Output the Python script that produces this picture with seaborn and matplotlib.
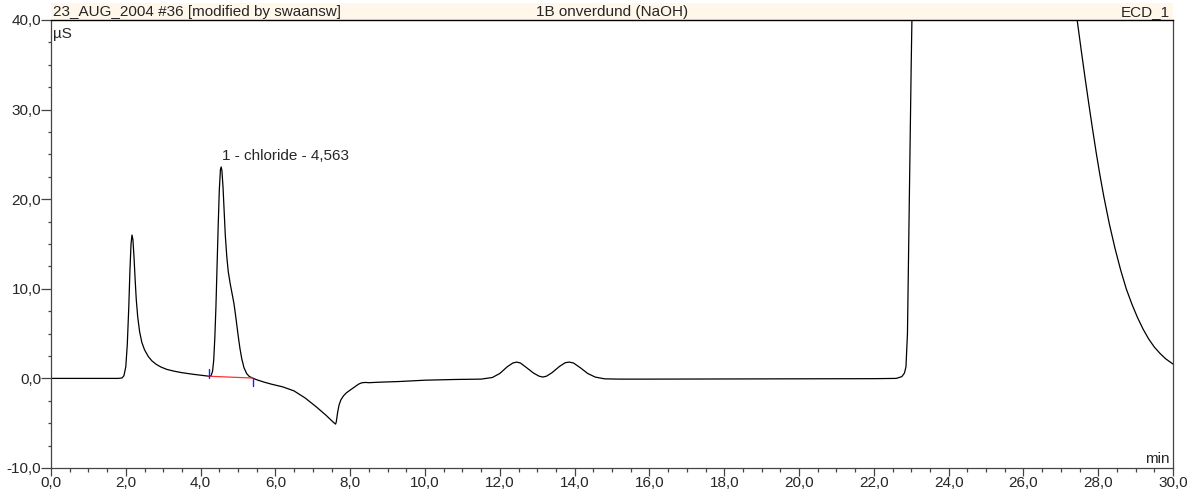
import matplotlib
matplotlib.use("Agg")
import matplotlib.pyplot as plt
from matplotlib.ticker import MultipleLocator, FuncFormatter
import seaborn as sns
import pandas as pd

# Conductivity trace (retention time in min, signal in µS)
time_min = [
    0.0, 1.0, 1.8, 1.90, 1.95, 2.00, 2.04, 2.08, 2.11, 2.14, 2.165, 2.19,
    2.22, 2.25, 2.28, 2.32, 2.37, 2.43, 2.50, 2.60, 2.70, 2.82, 2.95, 3.1,
    3.3, 3.5, 3.8, 4.05, 4.23, 4.28, 4.32, 4.35, 4.38, 4.41, 4.44, 4.47,
    4.50, 4.53, 4.55, 4.57, 4.60, 4.63, 4.66, 4.70, 4.74, 4.79, 4.84, 4.89,
    4.93, 4.97, 5.01, 5.05, 5.10, 5.16, 5.23, 5.30, 5.39, 5.5, 5.7, 5.9,
    6.2, 6.5, 6.8, 7.1, 7.35, 7.55, 7.61, 7.63, 7.66, 7.70, 7.75, 7.82,
    7.90, 8.0, 8.12, 8.22, 8.3, 8.4, 8.5, 8.8, 9.3, 10.0, 10.8, 11.5,
    11.8, 12.0, 12.2, 12.35, 12.45, 12.55, 12.7, 12.9, 13.05, 13.15, 13.25,
    13.4, 13.6, 13.75, 13.86, 13.97, 14.15, 14.35, 14.55, 14.8, 15.2, 16.0,
    20.0, 22.0, 22.6, 22.75, 22.82, 22.86, 22.90, 22.95, 23.0, 23.05, 23.3,
    25.0, 27.0, 27.2, 27.45, 27.55, 27.65, 27.75, 27.85, 27.95, 28.05,
    28.15, 28.3, 28.45, 28.6, 28.75, 28.9, 29.05, 29.2, 29.35, 29.5, 29.65,
    29.8, 30.0,
]
signal_us = [
    0.0, 0.0, 0.0, 0.05, 0.3, 1.3, 3.8, 8.0, 12.0, 15.0, 16.0, 15.5,
    13.5, 11.0, 8.8, 6.8, 5.2, 4.0, 3.2, 2.45, 1.95, 1.55, 1.25, 1.0,
    0.8, 0.64, 0.46, 0.33, 0.24, 0.3, 0.8, 2.0, 4.5, 8.0, 12.5, 17.0,
    21.0, 23.3, 23.6, 23.2, 21.3, 18.6, 16.0, 13.6, 11.9, 10.6, 9.5, 8.4,
    7.2, 5.9, 4.6, 3.4, 2.2, 1.2, 0.55, 0.22, 0.04, -0.15, -0.42, -0.65,
    -0.95, -1.4, -2.2, -3.2, -4.1, -4.9, -5.1, -4.8, -3.9, -3.0, -2.4, -1.95,
    -1.6, -1.3, -0.95, -0.65, -0.5, -0.45, -0.48, -0.42, -0.35, -0.2, -0.12, -0.08,
    0.1, 0.55, 1.3, 1.72, 1.82, 1.72, 1.25, 0.6, 0.25, 0.15, 0.25,
    0.65, 1.35, 1.75, 1.82, 1.72, 1.2, 0.55, 0.15, -0.05, -0.08, -0.08,
    -0.05, -0.03, 0.0, 0.2, 0.6, 1.3, 5.0, 20.0, 35.0, 48.0, 70.0,
    90.0, 56.0, 48.0, 39.6, 36.5, 33.5, 30.6, 27.8, 25.1, 22.6,
    20.3, 17.2, 14.5, 12.1, 10.0, 8.3, 6.8, 5.5, 4.4, 3.5, 2.8,
    2.2, 1.6,
]

# Integration of peak 1 (chloride)
peak_label = "1 - chloride - 4,563"
peak_rt = 4.563
peak_top = 24.0
baseline_t = [4.23, 5.39]
baseline_y = [0.24, 0.04]
delim_low = [0.1, -0.9]
delim_high = [1.1, 0.04]

header_left = "23_AUG_2004 #36 [modified by swaansw]"
header_mid = "1B onverdund (NaOH)"
header_right = "ECD_1"
y_unit = "µS"
x_unit = "min"

sns.set_style("white")
plt.rcParams["font.family"] = ["Liberation Sans", "DejaVu Sans"]
plt.rcParams["font.size"] = 11

W, H = 1192, 497
fig = plt.figure(figsize=(W / 100, H / 100), dpi=100)
ax = fig.add_axes([51 / W, 1 - 468 / H, 1122 / W, 448 / H])

df = pd.DataFrame({"t": time_min, "s": signal_us})
sns.lineplot(data=df, x="t", y="s", ax=ax, color="black", linewidth=0.9,
             estimator=None, sort=False)

ax.plot(baseline_t, baseline_y, color="#ff3030", linewidth=0.9)
for t, lo, hi in zip(baseline_t, delim_low, delim_high):
    ax.plot([t, t], [lo, hi], color="#2020ff", linewidth=1.0)

ax.text(peak_rt + 0.02, peak_top, peak_label, ha="left", va="bottom", fontsize=11)

ax.set_xlim(0, 30)
ax.set_ylim(-10, 40)
ax.set_xlabel("")
ax.set_ylabel("")
ax.xaxis.set_major_locator(MultipleLocator(2))
ax.xaxis.set_minor_locator(MultipleLocator(0.5))
ax.yaxis.set_major_locator(MultipleLocator(10))
ax.yaxis.set_minor_locator(MultipleLocator(2.5))
fmt = FuncFormatter(lambda v, p: f"{v:.1f}".replace(".", ","))
ax.xaxis.set_major_formatter(fmt)
ax.yaxis.set_major_formatter(fmt)
ax.tick_params(axis="x", which="major", direction="out", length=6, width=0.9,
               color="#444444", pad=0, labelsize=11)
ax.tick_params(axis="x", which="minor", direction="out", length=3, width=0.9,
               color="#444444")
ax.tick_params(axis="y", which="major", direction="out", length=7, width=0.9,
               color="#444444", pad=0, labelsize=11)
ax.tick_params(axis="y", which="minor", direction="out", length=2.5, width=0.9,
               color="#444444")
ax.tick_params(bottom=True, left=True, which="both")
for side in ["left", "bottom", "right"]:
    ax.spines[side].set_visible(True)
    ax.spines[side].set_color("#444444")
    ax.spines[side].set_linewidth(0.9)
ax.spines["top"].set_visible(False)

ax.text(0.002, 0.985, y_unit, transform=ax.transAxes, ha="left", va="top", fontsize=11)
ax.text(0.997, 0.004, x_unit, transform=ax.transAxes, ha="right", va="bottom", fontsize=11)

# Title band above the plot area
hax = fig.add_axes([51 / W, 1 - 20 / H, 1122 / W, 17 / H])
hax.set_facecolor("#fff8ea")
hax.set_xticks([])
hax.set_yticks([])
for side in ["left", "top", "right"]:
    hax.spines[side].set_visible(False)
hax.spines["bottom"].set_color("black")
hax.spines["bottom"].set_linewidth(1.0)
hax.text(0.002, 0.45, header_left, ha="left", va="center", fontsize=11)
hax.text(0.5, 0.45, header_mid, ha="center", va="center", fontsize=11)
hax.text(0.997, 0.45, header_right, ha="right", va="center", fontsize=11)

fig.savefig("out.png", dpi=100)
